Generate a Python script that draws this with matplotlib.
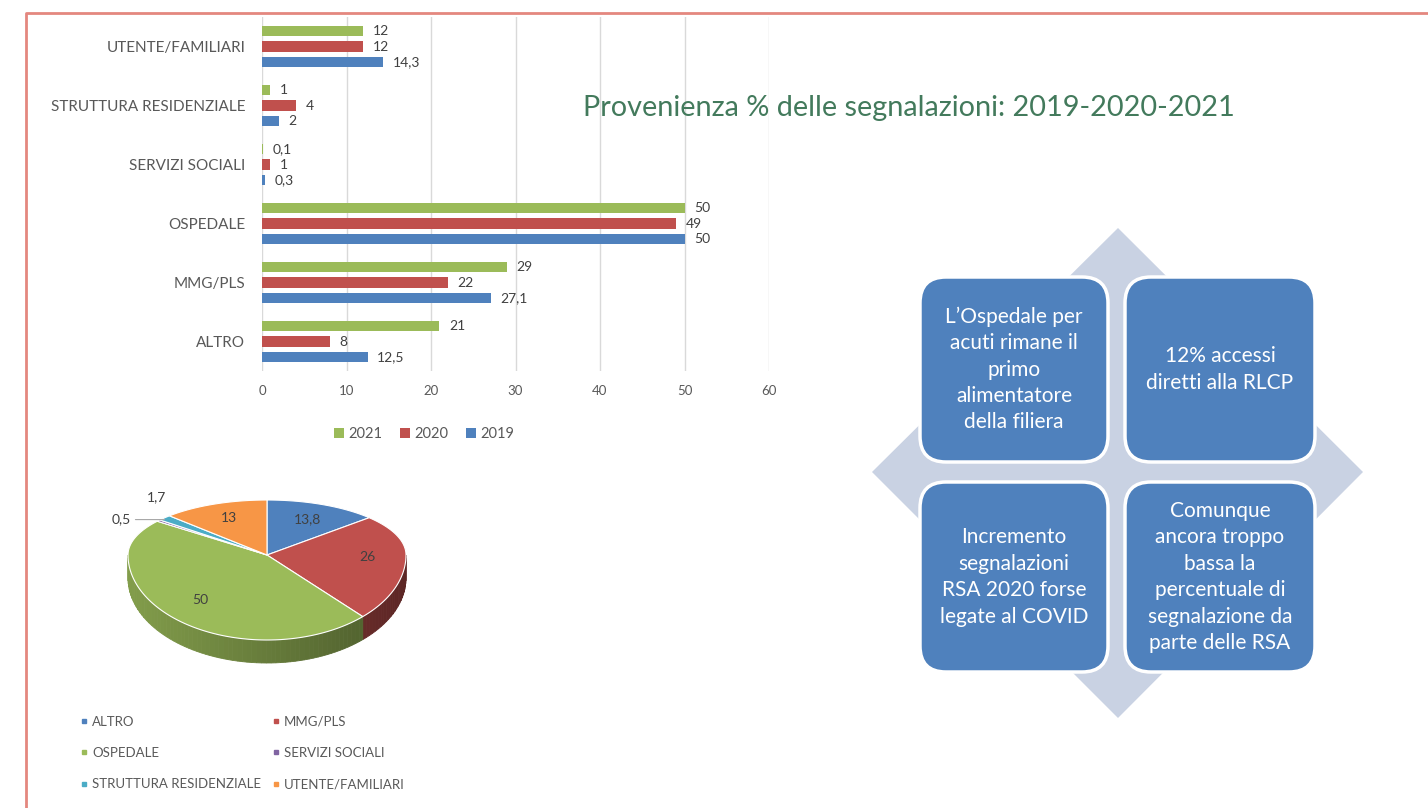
import numpy as np
import matplotlib.pyplot as plt
from matplotlib.patches import Polygon, FancyBboxPatch
from matplotlib.lines import Line2D
from matplotlib.colors import to_rgb

plt.rcParams['font.family'] = ['Lato', 'DejaVu Sans']

W, H = 1428, 808

# horizontal bars, listed bottom to top
categories = ['ALTRO', 'MMG/PLS', 'OSPEDALE', 'SERVIZI SOCIALI',
              'STRUTTURA RESIDENZIALE', 'UTENTE/FAMILIARI']
years = ['2021', '2020', '2019']
values_2021 = [21, 29, 50, 0.1, 1, 12]
values_2020 = [8, 22, 49, 1, 4, 12]
values_2019 = [12.5, 27.1, 50, 0.3, 2, 14.3]

# 3d pie
pie_labels = ['ALTRO', 'MMG/PLS', 'OSPEDALE', 'SERVIZI SOCIALI',
              'STRUTTURA RESIDENZIALE', 'UTENTE/FAMILIARI']
pie_values = [13.8, 26, 50, 0.5, 1.7, 13]

title = 'Provenienza % delle segnalazioni: 2019-2020-2021'
notes = [
    'L\u2019Ospedale per\nacuti rimane il\nprimo\nalimentatore\ndella filiera',
    '12% accessi\ndiretti alla RLCP',
    'Incremento\nsegnalazioni\nRSA 2020 forse\nlegate al COVID',
    'Comunque\nancora troppo\nbassa la\npercentuale di\nsegnalazione da\nparte delle RSA',
]

bar_colors = ['#9BBB59', '#C0504D', '#4F81BD']
pie_colors = ['#4F81BD', '#C0504D', '#9BBB59', '#8064A2', '#4BACC6', '#F79646']


def fmt(v):
    return ('%g' % v).replace('.', ',')


def rect(x0, y0, x1, y1):
    # pixel box -> figure fraction
    return [x0 / W, 1 - y1 / H, (x1 - x0) / W, (y1 - y0) / H]


fig = plt.figure(figsize=(W / 100, H / 100), dpi=100)

# background layer in pixel units (frame, pie, diagram)
bg = fig.add_axes([0, 0, 1, 1])
bg.set_xlim(0, W)
bg.set_ylim(H, 0)
bg.axis('off')

bg.plot([26, 26, W], [H, 13, 13], color='#E4877F', lw=2, solid_capstyle='butt')

# ---- bar chart ----
ax = fig.add_axes(rect(262, 17, 769, 371))
ax.patch.set_alpha(0)
y = np.arange(len(categories))
off, h = 0.263, 0.17
for vals, yr, c, d in zip([values_2021, values_2020, values_2019], years, bar_colors, [off, 0, -off]):
    bars = ax.barh(y + d, vals, height=h, color=c, label=yr, zorder=3)
    for b, v in zip(bars, vals):
        ax.annotate(fmt(v), (b.get_width(), b.get_y() + h / 2), xytext=(7, 0),
                    textcoords='offset points', va='center', fontsize=10, color='#404040')
ax.set_xlim(0, 60)
ax.set_ylim(-0.5, 5.5)
ax.set_xticks(range(0, 61, 10))
ax.set_yticks(y, categories)
ax.grid(axis='x', color='#D9D9D9', lw=1, zorder=0)
for s in ax.spines.values():
    s.set_visible(False)
ax.tick_params(length=0, colors='#595959', labelsize=9.5)
ax.tick_params(axis='x', pad=10)
ax.tick_params(axis='y', pad=12, labelsize=11)

handles, labels = ax.get_legend_handles_labels()
fig.legend(handles, labels, loc='center', bbox_to_anchor=(424 / W, 1 - 434 / H), ncol=3,
           frameon=False, handlelength=0.7, handleheight=0.7, handletextpad=0.3,
           columnspacing=1.2, fontsize=10.5, labelcolor='#595959')

fig.text(583 / W, 1 - 108 / H, title, fontsize=20.8, color='#437A5C', ha='left', va='center')

# ---- 3d pie ----
cx, cy, rx, ry_back, ry_front, depth = 267, 555, 139, 55, 85, 23


def rim(theta, k=1.0):
    t = np.radians(theta)
    ry = np.where(np.cos(t) > 0, ry_back, ry_front)
    return cx + k * rx * np.sin(t), cy - k * ry * np.cos(t)


angles = np.concatenate([[0], np.cumsum(pie_values) / sum(pie_values) * 360])

# side walls of the front half
for i in range(len(pie_values)):
    lo, hi = max(angles[i], 90), min(angles[i + 1], 270)
    if hi <= lo:
        continue
    base = np.array(to_rgb(pie_colors[i]))
    edges = np.linspace(lo, hi, int((hi - lo) / 2) + 2)
    for a, b in zip(edges[:-1], edges[1:]):
        xs, ys = rim(np.linspace(a, b, 4))
        f = 0.66 - 0.18 * np.sin(np.radians((a + b) / 2))
        poly = np.column_stack([np.r_[xs, xs[::-1]], np.r_[ys, ys[::-1] + depth]])
        bg.add_patch(Polygon(poly, closed=True, fc=base * f, ec=base * f, lw=0.6))

# top faces
for i in range(len(pie_values)):
    n = max(int(angles[i + 1] - angles[i]), 2) + 1
    xs, ys = rim(np.linspace(angles[i], angles[i + 1], n))
    poly = np.column_stack([np.r_[cx, xs], np.r_[cy, ys]])
    bg.add_patch(Polygon(poly, closed=True, fc=pie_colors[i], ec='white', lw=0.8))

for i, v in enumerate(pie_values):
    mid = (angles[i] + angles[i + 1]) / 2
    if v >= 5:
        tx, ty = rim(mid, 0.72)
        bg.text(tx, ty, fmt(v), ha='center', va='center', fontsize=10, color='#404040')
    elif v < 1:
        px, py = rim(mid)
        bg.annotate(fmt(v), (px + 6, py - 1), xytext=(-24, 0), textcoords='offset points',
                    ha='right', va='center', fontsize=10, color='#404040',
                    arrowprops=dict(arrowstyle='-', color='#A6A6A6', lw=0.8, shrinkA=1, shrinkB=0))
    else:
        px, py = rim(mid)
        bg.annotate(fmt(v), (px, py), xytext=(-6, 15), textcoords='offset points',
                    ha='center', va='center', fontsize=10, color='#404040')

pie_handles = [Line2D([], [], ls='', marker='s', ms=3.5, color=c) for c in pie_colors]
order = [0, 2, 4, 1, 3, 5]
fig.legend([pie_handles[i] for i in order], [pie_labels[i] for i in order], ncol=2,
           loc='upper left', bbox_to_anchor=(66 / W, 1 - 704 / H), frameon=False,
           fontsize=9.5, labelcolor='#595959', handletextpad=0.1, labelspacing=1.45,
           columnspacing=0.6, handlelength=1.0)

# ---- diamond diagram ----
bg.add_patch(Polygon([(1118, 228), (1363, 472), (1118, 718), (872, 472)], closed=True,
                     fc='#C9D2E3', ec='none'))
box_x = [(920, 1108), (1125, 1315)]
box_y = [(277, 462), (482, 672)]
for k, note in enumerate(notes):
    x0, x1 = box_x[k % 2]
    y0, y1 = box_y[k // 2]
    bg.add_patch(FancyBboxPatch((x0, y0), x1 - x0, y1 - y0,
                                boxstyle='round,pad=0,rounding_size=26',
                                fc='#4F81BD', ec='white', lw=2.5))
    bg.text((x0 + x1) / 2, (y0 + y1) / 2, note, ha='center', va='center',
            color='white', fontsize=15, linespacing=1.4)

fig.savefig('out.png', dpi=100)
